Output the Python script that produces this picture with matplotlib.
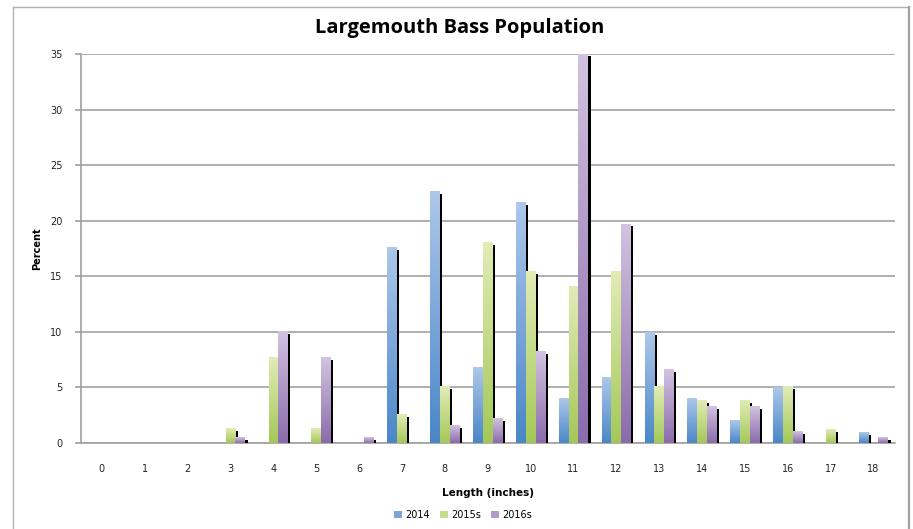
import numpy as np
import matplotlib
matplotlib.use('Agg')
import matplotlib.pyplot as plt
from matplotlib.colors import LinearSegmentedColormap
from matplotlib.patches import Patch
from matplotlib.lines import Line2D

lengths = list(range(19))
series_names = ['2014', '2015s', '2016s']
pct_2014 = [0, 0, 0, 0, 0, 0, 0, 17.6, 22.6, 6.8, 21.6, 4.0, 5.9, 9.9, 4.0, 2.0, 5.0, 0, 0.95]
pct_2015 = [0, 0, 0, 1.26, 7.7, 1.26, 0, 2.6, 5.1, 18.0, 15.4, 14.1, 15.4, 5.1, 3.85, 3.85, 5.1, 1.2, 0]
pct_2016 = [0, 0, 0, 0.5, 10.0, 7.65, 0.5, 0, 1.6, 2.2, 8.2, 35.0, 19.7, 6.6, 3.3, 3.3, 1.05, 0, 0.5]

# (top, bottom) colours of each bar's vertical gradient
grad_colors = [('#adc8ea', '#4a86c8'),
               ('#e2ecb6', '#a4c858'),
               ('#d3c3e0', '#8a6bab')]
legend_colors = ['#78a5da', '#c5dc8a', '#b09ac8']

fig = plt.figure(figsize=(9.13, 5.29), dpi=100)
W, H = 913, 529
ax = fig.add_axes([80.5 / W, 1 - 443 / H, (895 - 80.5) / W, (443 - 54) / H])

x = np.arange(len(lengths))
bw = 0.228
dx_sh = 0.055   # shadow shift to the right (data units)
dy_sh = 0.22    # shadow drop from the bar top

grad = np.linspace(1, 0, 256).reshape(-1, 1)
z = 3
for i, (vals, (ctop, cbot)) in enumerate(zip([pct_2014, pct_2015, pct_2016], grad_colors)):
    cmap = LinearSegmentedColormap.from_list('g%d' % i, [cbot, ctop])
    for xi, v in zip(x, vals):
        if v <= 0:
            continue
        x0 = xi + (i - 1.5) * bw
        ax.bar(x0 + dx_sh, max(v - dy_sh, 0.05), width=bw, align='edge',
               color='black', zorder=z, linewidth=0)
        ax.imshow(grad, cmap=cmap, extent=[x0, x0 + bw, 0, v], aspect='auto',
                  interpolation='bilinear', zorder=z + 1)
        z += 2

ax.set_xlim(-0.5, 18.5)
ax.set_ylim(0, 35)
ax.set_yticks(range(0, 36, 5))
ax.set_xticks(x)
ax.set_xticklabels([str(v) for v in lengths])
ax.yaxis.grid(True, color='#a9a9a9', linewidth=1.3)
ax.set_axisbelow(True)
for s in ['top', 'right']:
    ax.spines[s].set_visible(False)
for s in ['left', 'bottom']:
    ax.spines[s].set_color('#a0a0a0')
    ax.spines[s].set_linewidth(1.2)
ax.tick_params(axis='y', length=4, color='#a0a0a0', width=1.2, labelsize=7, pad=9,
               labelcolor='#222222')
ax.tick_params(axis='x', length=0, labelsize=7, pad=15, labelcolor='#222222')

ax.set_ylabel('Percent', fontsize=7, fontweight='bold')
ax.yaxis.set_label_coords((42 - 80.5) / 814.5, 0.5)
ax.set_xlabel('Length (inches)', fontsize=7.5, fontweight='bold', labelpad=10)

fig.text(460 / W, 1 - 28 / H, 'Largemouth Bass Population', ha='center', va='center',
         fontsize=14.5, fontweight='bold', family='Open Sans')

handles = [Patch(facecolor=c, edgecolor='none') for c in legend_colors]
fig.legend(handles, series_names, loc='center', bbox_to_anchor=(463 / W, 1 - 515 / H),
           ncol=3, frameon=False, fontsize=7, handlelength=0.8, handleheight=0.8,
           handletextpad=0.3, columnspacing=1.1)

# chart area border
bc = '#b0b0b0'
fig.add_artist(Line2D([12.5 / W, 12.5 / W], [0, 1 - 6.5 / H], color=bc, lw=1.0))
fig.add_artist(Line2D([12.5 / W, 909 / W], [1 - 6.5 / H, 1 - 6.5 / H], color=bc, lw=1.0))
fig.add_artist(Line2D([909 / W, 909 / W], [0, 1 - 6.5 / H], color='#a0a0a0', lw=1.6))

fig.savefig('out.png', dpi=100)
